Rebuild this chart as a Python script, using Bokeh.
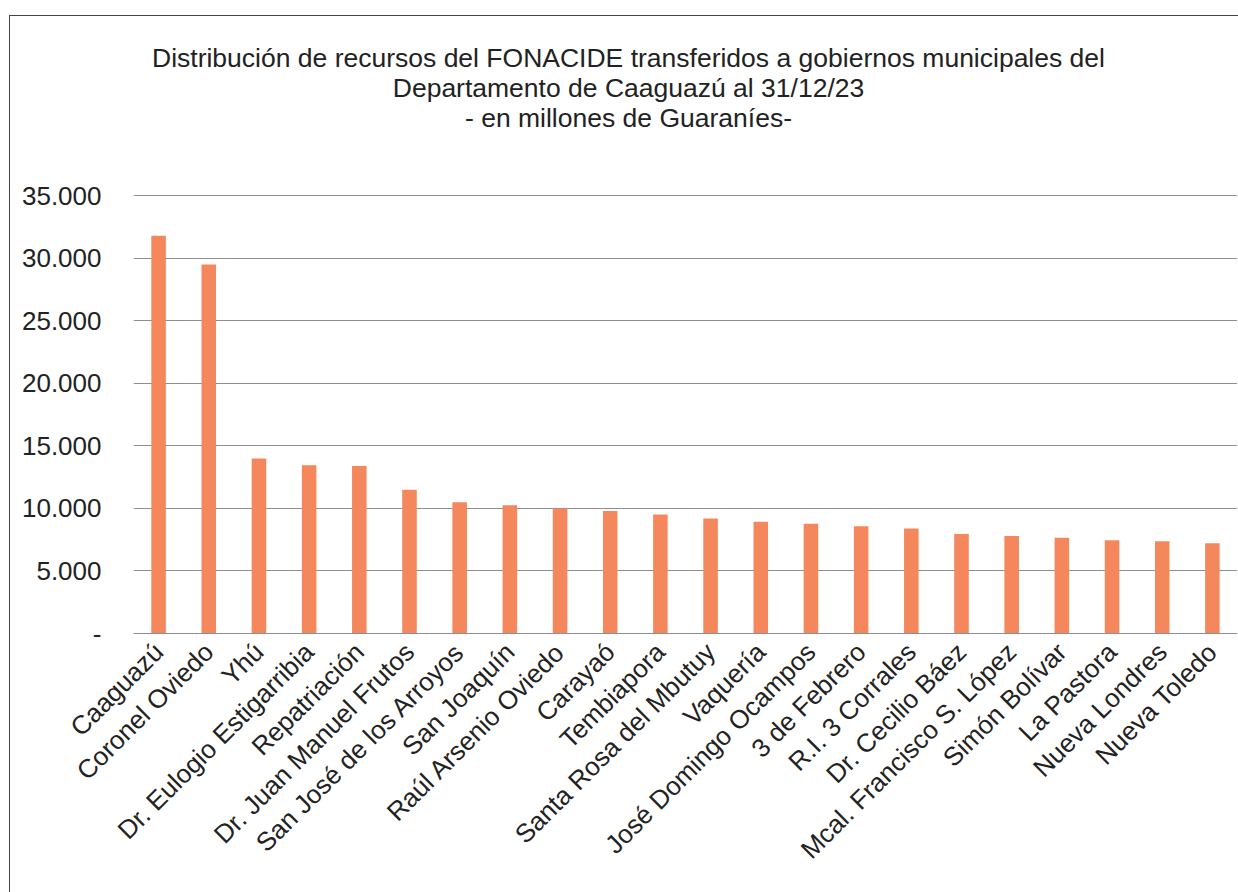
from math import pi
from bokeh.plotting import figure
from bokeh.models import FixedTicker, Div
from bokeh.layouts import column
from bokeh.embed import file_html
from bokeh.resources import INLINE

municipios = [
    "Caaguazú", "Coronel Oviedo", "Yhú", "Dr. Eulogio Estigarribia", "Repatriación",
    "Dr. Juan Manuel Frutos", "San José de los Arroyos", "San Joaquín",
    "Raúl Arsenio Oviedo", "Carayaó", "Tembiapora", "Santa Rosa del Mbutuy",
    "Vaquería", "José Domingo Ocampos", "3 de Febrero", "R.I. 3 Corrales",
    "Dr. Cecilio Báez", "Mcal. Francisco S. López", "Simón Bolívar", "La Pastora",
    "Nueva Londres", "Nueva Toledo",
]
montos = [
    31800, 29500, 14000, 13450, 13400, 11500, 10500, 10250, 10000, 9800, 9520,
    9200, 8930, 8770, 8570, 8390, 7960, 7800, 7650, 7460, 7380, 7220,
]
y_ticks = [0, 5000, 10000, 15000, 20000, 25000, 30000, 35000]
y_tick_labels = ["-", "5.000", "10.000", "15.000", "20.000", "25.000", "30.000", "35.000"]
title_lines = [
    "Distribución de recursos del FONACIDE transferidos a gobiernos municipales del",
    "Departamento de Caaguazú al 31/12/23",
    "- en millones de Guaraníes-",
]

title_div = Div(
    text="<br>".join(title_lines),
    width=1227, height=153,
    styles={
        "text-align": "center", "font-family": "'Liberation Sans', Arial, sans-serif",
        "font-size": "26.5px", "line-height": "30px", "color": "#222222",
        "padding-top": "22px", "box-sizing": "border-box",
        "white-space": "nowrap",
    },
)

p = figure(
    x_range=municipios, y_range=(0, 35100),
    width=1227, height=719,
    output_backend="svg", toolbar_location=None,
    min_border_left=123, min_border_right=0, min_border_top=15, min_border_bottom=265,
)
p.vbar(x=municipios, top=montos, width=0.29, color="#F4875C", line_color=None)

p.outline_line_color = None
p.background_fill_color = "white"
p.border_fill_color = "white"

p.xgrid.grid_line_color = None
p.ygrid.grid_line_color = "#8f8f8f"
p.ygrid.grid_line_width = 1
p.ygrid.ticker = FixedTicker(ticks=y_ticks)

p.yaxis.ticker = FixedTicker(ticks=y_ticks)
p.yaxis.major_label_overrides = {t: l for t, l in zip(y_ticks, y_tick_labels)}
p.yaxis.axis_line_color = None
p.yaxis.major_tick_line_color = None
p.yaxis.minor_tick_line_color = None
p.yaxis.major_label_text_font = "Liberation Sans"
p.yaxis.major_label_text_font_size = "26px"
p.yaxis.major_label_text_color = "#222222"
p.yaxis.major_label_standoff = 26

p.xaxis.axis_line_color = "#8f8f8f"
p.xaxis.major_tick_line_color = None
p.xaxis.minor_tick_line_color = None
p.xaxis.major_label_orientation = pi / 4
p.xaxis.major_label_text_font = "Liberation Sans"
p.xaxis.major_label_text_font_size = "26px"
p.xaxis.major_label_text_color = "#222222"
p.xaxis.major_label_standoff = 8

layout = column(
    title_div, p,
    styles={"border": "1px solid #444444", "margin-top": "15px", "margin-left": "9px"},
)

open("out.html", "w").write(file_html(layout, INLINE))
